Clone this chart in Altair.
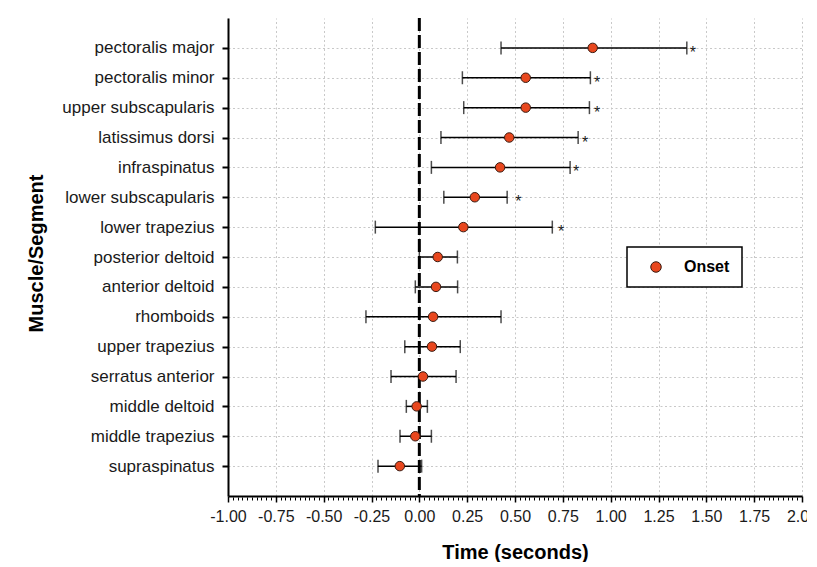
import altair as alt
import pandas as pd

muscles = [
    "pectoralis major", "pectoralis minor", "upper subscapularis", "latissimus dorsi",
    "infraspinatus", "lower subscapularis", "lower trapezius", "posterior deltoid",
    "anterior deltoid", "rhomboids", "upper trapezius", "serratus anterior",
    "middle deltoid", "middle trapezius", "supraspinatus",
]
onset = [0.906, 0.556, 0.556, 0.470, 0.422, 0.290, 0.230, 0.096,
         0.087, 0.072, 0.066, 0.019, -0.014, -0.021, -0.102]
ci_low = [0.427, 0.225, 0.232, 0.113, 0.063, 0.128, -0.230, 0.000,
          -0.021, -0.279, -0.076, -0.148, -0.068, -0.101, -0.216]
ci_high = [1.398, 0.894, 0.889, 0.830, 0.788, 0.459, 0.695, 0.199,
           0.200, 0.427, 0.214, 0.192, 0.042, 0.063, 0.012]
sig_muscles = ["pectoralis major", "pectoralis minor", "upper subscapularis",
               "latissimus dorsi", "infraspinatus", "lower subscapularis", "lower trapezius"]
sig_x = [1.429, 0.929, 0.929, 0.866, 0.819, 0.518, 0.741]
zero_line = [0.0]
major_ticks = [-1.0, -0.75, -0.5, -0.25, 0.0, 0.25, 0.5, 0.75, 1.0, 1.25, 1.5, 1.75, 2.0]
minor_ticks = [round(-1.0 + 0.025 * i, 3) for i in range(121)]

df = pd.DataFrame({"muscle": muscles, "onset": onset, "low": ci_low, "high": ci_high,
                   "series": ["Onset"] * len(muscles)})
sig = pd.DataFrame({"muscle": sig_muscles, "x": sig_x, "label": ["*"] * len(sig_muscles)})
zero = pd.DataFrame({"x": zero_line})

FONT = "Liberation Sans"
W, H = 574, 478
xscale = alt.Scale(domain=[-1.0, 2.0], nice=False, zero=False)
yscale = alt.Scale(type="point", domain=muscles, padding=1.06)

label_expr = "datum.value < 0 ? '-' + format(-datum.value, '.2f') : format(datum.value, '.2f')"

main_x_axis = alt.Axis(
    values=major_ticks, labelExpr=label_expr, title="Time (seconds)",
    labelOverlap=False, labelFlush=False,
    grid=True, gridColor="#c8c8c8", gridDash=[2, 2.5], gridWidth=1,
    domainColor="black", domainWidth=2, tickColor="black", tickSize=6, tickWidth=1.5,
    labelFont=FONT, labelFontSize=16, labelColor="#1a1a1a", labelPadding=6,
    titleFont=FONT, titleFontSize=20, titleFontWeight="bold", titleColor="black",
    titleY=56, titleBaseline="middle", orient="bottom",
)
y_axis = alt.Axis(
    title="Muscle/Segment", grid=True, gridColor="#c8c8c8", gridDash=[2, 2.5], gridWidth=1,
    domainColor="black", domainWidth=2, tickColor="black", tickSize=6, tickWidth=2,
    labelFont=FONT, labelFontSize=17, labelColor="#1a1a1a", labelPadding=8,
    titleFont=FONT, titleFontSize=20, titleFontWeight="bold", titleColor="black",
    titleX=-192, titleY=235, titleAngle=270, titleBaseline="middle", titleAlign="center",
)
minor_axis = alt.Axis(values=minor_ticks, labels=False, grid=False, domain=False,
                      ticks=True, tickSize=3, tickWidth=1, tickColor="black",
                      title=None, orient="top", offset=-(H + 4))

base = alt.Chart(df)
ysc = alt.Y("muscle:N", scale=yscale, sort=muscles)

bars = base.mark_rule(color="black", strokeWidth=1.5).encode(
    x=alt.X("low:Q", scale=xscale, axis=main_x_axis),
    x2="high:Q",
    y=alt.Y("muscle:N", scale=yscale, sort=muscles, axis=y_axis),
)
caps_low = base.mark_tick(color="black", orient="vertical", size=13, thickness=1.5).encode(
    x=alt.X("low:Q", scale=xscale, axis=None), y=ysc)
caps_high = base.mark_tick(color="black", orient="vertical", size=13, thickness=1.5).encode(
    x=alt.X("high:Q", scale=xscale, axis=None), y=ysc)

zl = alt.Chart(zero).mark_rule(color="black", strokeWidth=3, strokeDash=[13, 4]).encode(
    x=alt.X("x:Q", scale=xscale, axis=minor_axis),
)

pts = base.mark_circle(size=90, opacity=1, stroke="#3a1a10", strokeWidth=1).encode(
    x=alt.X("onset:Q", scale=xscale, axis=None),
    y=ysc,
    color=alt.Color("series:N", scale=alt.Scale(range=["#E8471E"]),
                    legend=alt.Legend(title=None, orient="none", legendX=399, legendY=229,
                                      strokeColor="black", fillColor="white", padding=12,
                                      symbolType="circle", symbolSize=110,
                                      symbolStrokeColor="#3a1a10", symbolStrokeWidth=1,
                                      symbolOffset=9, labelOffset=20,
                                      labelFont=FONT, labelFontSize=16, labelFontWeight="bold",
                                      labelColor="black", rowPadding=0)),
)

stars = alt.Chart(sig).mark_text(font=FONT, fontSize=16, color="#1a1a1a", align="center",
                                 baseline="middle", dy=5).encode(
    x=alt.X("x:Q", scale=xscale, axis=None),
    y=ysc,
    text="label:N",
)

chart = alt.layer(bars, zl, caps_low, caps_high, pts, stars).resolve_axis(
    x="independent"
).properties(
    width=W, height=H,
    autosize=alt.AutoSizeParams(type="none"),
    padding={"left": 220, "top": 10, "right": 5, "bottom": 66},
).configure_view(stroke=None).configure_legend(strokeWidth=1.5)

chart.save("out.html", embed_options={"renderer": "svg", "actions": False})
